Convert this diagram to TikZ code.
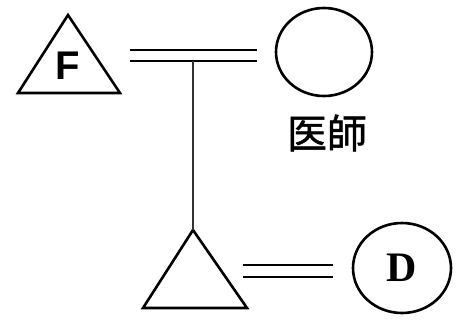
\documentclass[tikz,border=0pt]{standalone}
\usepackage{fontspec}
\setmainfont{Liberation Serif}
\newfontfamily\sansbf{Liberation Sans}
\newfontfamily\cjk[FakeBold=1.2]{Noto Sans CJK JP}
\usetikzlibrary{shapes.geometric}
\begin{document}
\begin{tikzpicture}[x=1pt,y=-1pt,
  shapeline/.style={line width=2.6pt, line join=miter},
  pairline/.style={line width=2.6pt},
  stemline/.style={line width=1.6pt, draw=black!80}]
\useasboundingbox (0,0) rectangle (461,325);
% top triangle F
\coordinate (fA) at (68,15);
\coordinate (fL) at (18,93);
\coordinate (fR) at (120,93);
\draw[shapeline] (fA) -- (fL) -- (fR) -- cycle;
\node[font=\sansbf\bfseries\fontsize{40}{40}\selectfont] (F) at (68,66) {F};
% top circle
\node[ellipse, draw, shapeline, minimum width=96pt, minimum height=88pt, inner sep=0pt] (doc) at (324,52) {};
\node[font=\cjk\fontsize{40}{40}\selectfont] (lab) at (327,133) {医師};
% top double line
\coordinate (t1a) at (130,50);
\coordinate (t1b) at (257,50);
\coordinate (t2a) at (130,61);
\coordinate (t2b) at (257,61);
\draw[pairline] (t1a) -- (t1b);
\draw[pairline] (t2a) -- (t2b);
% bottom triangle
\coordinate (bA) at (193,230);
\coordinate (bL) at (143,308);
\coordinate (bR) at (247,308);
\draw[shapeline] (bA) -- (bL) -- (bR) -- cycle;
% stem
\coordinate (stemtop) at (193,61);
\draw[stemline] (stemtop) -- (bA);
% bottom double line
\coordinate (b1a) at (243,265);
\coordinate (b1b) at (333,265);
\coordinate (b2a) at (243,277);
\coordinate (b2b) at (333,277);
\draw[pairline] (b1a) -- (b1b);
\draw[pairline] (b2a) -- (b2b);
% D circle
\node[ellipse, draw, shapeline, minimum width=98pt, minimum height=90pt, inner sep=0pt, font=\bfseries\fontsize{42}{42}\selectfont] (D) at (402,268) {D};
\end{tikzpicture}
\end{document}
